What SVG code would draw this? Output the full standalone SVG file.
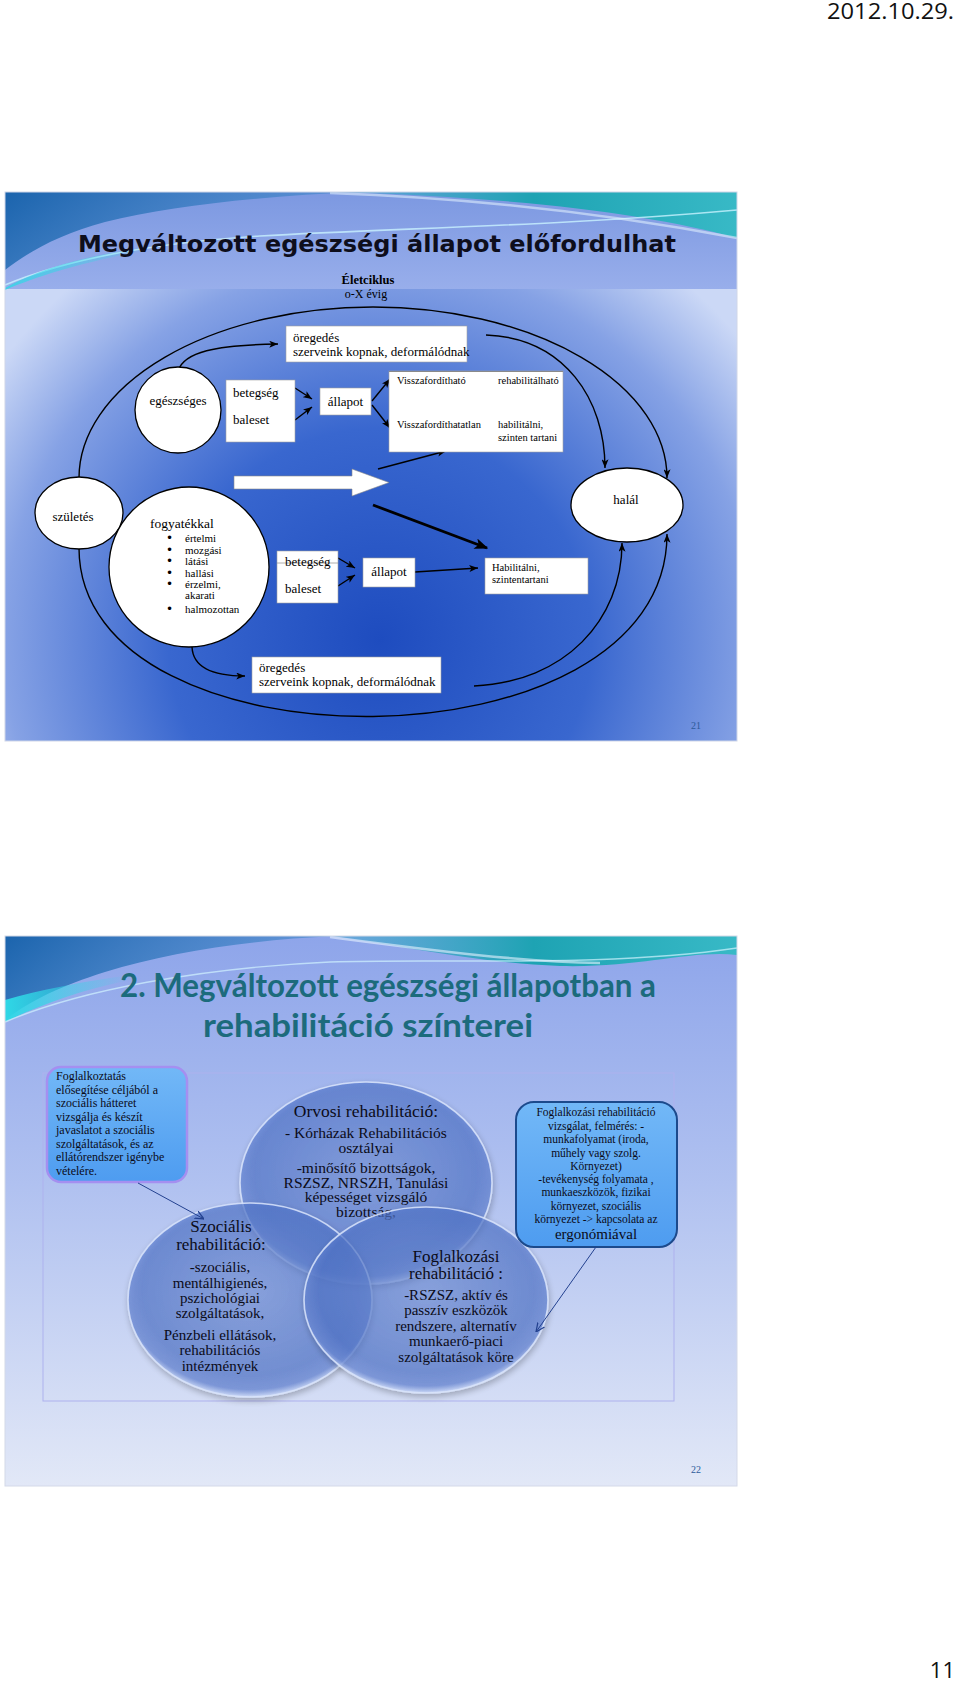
<svg xmlns="http://www.w3.org/2000/svg" width="960" height="1681" viewBox="0 0 960 1681">
<defs>
<style>
.serif{font-family:"Liberation Serif","DejaVu Serif",serif;fill:#000}
.mid{text-anchor:middle}
.wbox{fill:#fff;stroke:#a0a0a0;stroke-width:0.6}
.oval{fill:#fff;stroke:#000;stroke-width:1.3}
.ln{fill:none;stroke:#000;stroke-width:1.4}
.thick{fill:none;stroke:#000;stroke-width:2.8}
.bl{fill:none;stroke:#23418f;stroke-width:1}
.venn{fill:url(#vg);stroke:#dbe5fb;stroke-width:1.6;stroke-opacity:0.85}
.vt{font-family:"Liberation Serif","DejaVu Serif",serif;fill:#0b0b18;text-anchor:middle}
.ct{font-family:"Liberation Serif","DejaVu Serif",serif;fill:#0b0b18}
.num{font-family:"Liberation Serif",serif;font-size:10px;fill:#2d5a9a;text-anchor:middle}
.hdr{font-family:"Open Sans","Noto Sans","Liberation Sans",sans-serif;fill:#111}
.bul{font-family:"DejaVu Sans",sans-serif;font-size:12px;fill:#000}
</style>
<linearGradient id="hdr1" x1="0" y1="0" x2="0" y2="1"><stop offset="0" stop-color="#7c98e1"/><stop offset="1" stop-color="#98aeeb"/></linearGradient>
<radialGradient id="body1" gradientUnits="userSpaceOnUse" cx="380" cy="640" r="470"><stop offset="0" stop-color="#1e4cbf"/><stop offset="0.45" stop-color="#3967cf"/><stop offset="0.8" stop-color="#86a2e5"/><stop offset="1" stop-color="#cbd8f6"/></radialGradient>
<linearGradient id="bg2" x1="0" y1="0" x2="0" y2="1"><stop offset="0" stop-color="#8ea5ea"/><stop offset="0.45" stop-color="#b0c1f0"/><stop offset="1" stop-color="#e2e8f7"/></linearGradient>
<linearGradient id="swl" x1="0" y1="0" x2="1" y2="0.3"><stop offset="0" stop-color="#1b64ad"/><stop offset="1" stop-color="#4f8fd0" stop-opacity="0.6"/></linearGradient>
<linearGradient id="swr" x1="0" y1="0" x2="1" y2="0"><stop offset="0" stop-color="#4aa8d0" stop-opacity="0.5"/><stop offset="0.5" stop-color="#1ea3b3"/><stop offset="1" stop-color="#38b9c6"/></linearGradient>
<linearGradient id="cyan" x1="0" y1="0" x2="1" y2="0"><stop offset="0" stop-color="#2fd8e6"/><stop offset="1" stop-color="#2fd8e6" stop-opacity="0"/></linearGradient>
<radialGradient id="vg" cx="0.5" cy="0.45" r="0.55"><stop offset="0" stop-color="#7090da" stop-opacity="0.6"/><stop offset="0.8" stop-color="#5276cc" stop-opacity="0.66"/><stop offset="0.93" stop-color="#6a89d6" stop-opacity="0.74"/><stop offset="1" stop-color="#cfdcfa" stop-opacity="0.88"/></radialGradient>
<linearGradient id="cl" x1="0" y1="0" x2="0" y2="1"><stop offset="0" stop-color="#72b8f7"/><stop offset="1" stop-color="#4e9cf0"/></linearGradient>
<filter id="sh" x="-10%" y="-10%" width="125%" height="130%"><feGaussianBlur in="SourceAlpha" stdDeviation="3"/><feOffset dx="1" dy="3" result="o"/><feComponentTransfer in="o" result="s"><feFuncA type="linear" slope="0.3"/></feComponentTransfer><feMerge><feMergeNode in="s"/><feMergeNode in="SourceGraphic"/></feMerge></filter>
<marker id="ah" viewBox="0 0 10 8" refX="10" refY="4" markerWidth="9" markerHeight="7" orient="auto" markerUnits="userSpaceOnUse"><path d="M0,0 L10,4 L0,8 L2.5,4 Z" fill="#000"/></marker>
<marker id="ahL" viewBox="0 0 10 8" refX="9" refY="4" markerWidth="14" markerHeight="11" orient="auto" markerUnits="userSpaceOnUse"><path d="M0,0 L10,4 L0,8 L2.5,4 Z" fill="#000"/></marker>
<marker id="ahb" viewBox="0 0 10 10" refX="10" refY="5" markerWidth="9" markerHeight="9" orient="auto" markerUnits="userSpaceOnUse"><path d="M0,0.5 L10,5 L0,9.5" fill="none" stroke="#23418f" stroke-width="1.4"/></marker>
</defs>

<rect x="0" y="0" width="960" height="1681" fill="#fff"/>
<text class="hdr" x="954" y="19" font-size="21" text-anchor="end" textLength="127" lengthAdjust="spacingAndGlyphs">2012.10.29.</text>
<text class="hdr" x="955" y="1678" font-size="22" text-anchor="end">11</text>

<!-- ============ SLIDE 1 ============ -->
<g id="slide1-background">
<rect x="5" y="192" width="732" height="549" fill="url(#body1)"/>
<rect x="5" y="192" width="732" height="97" fill="url(#hdr1)"/>
<path d="M5,192 H360 C260,196 170,206 105,222 C60,234 28,252 5,270 Z" fill="url(#swl)"/>
<path d="M330,192 H737 V238 C650,214 520,197 330,192 Z" fill="url(#swr)"/>
<path d="M5,285 C60,262 140,244 260,236 C400,228 560,226 737,210" fill="none" stroke="#c9f3ff" stroke-width="1.6" opacity="0.8"/>
<path d="M5,288 C40,268 90,255 150,246 L150,250 C90,260 40,275 5,290 Z" fill="url(#cyan)" opacity="0.8"/>
<path d="M330,193 C470,198 600,212 737,238" fill="none" stroke="#e6f4ff" stroke-width="2.5" opacity="0.55"/>
<rect x="5" y="192" width="732" height="549" fill="none" stroke="#cfd6e8" stroke-width="1"/>
</g>

<text id="title-1" x="78" y="252" font-family="DejaVu Sans,Verdana,sans-serif" font-weight="bold" font-size="23" textLength="598" lengthAdjust="spacingAndGlyphs" fill="#0e0e1c">Megváltozott egészségi állapot előfordulhat</text>
<g id="lifecycle-label">
<text class="serif mid" x="368" y="284" font-size="12.5" font-weight="bold">Életciklus</text>
<text class="serif mid" x="366" y="298" font-size="12">o-X évig</text>
</g>

<g id="connectors-1">
<path class="ln" d="M79,478 A294,171 0 0 1 667,478" marker-end="url(#ah)"/>
<path class="ln" d="M486,335 C565,338 605,400 605,468" marker-end="url(#ah)"/>
<path class="ln" d="M79,548 C79,775 667,775 667,534" marker-end="url(#ah)"/>
<path class="ln" d="M474,686 C565,682 622,620 622,543" marker-end="url(#ah)"/>
<path class="ln" d="M178,371 C184,352 215,345 278,344" marker-end="url(#ah)"/>
<path class="ln" d="M192,647 C193,668 215,676 245,676" marker-end="url(#ah)"/>
<line class="ln" x1="295" y1="388" x2="312" y2="399" marker-end="url(#ah)"/>
<line class="ln" x1="295" y1="420" x2="312" y2="407" marker-end="url(#ah)"/>
<line class="ln" x1="372" y1="401" x2="390" y2="379" marker-end="url(#ah)"/>
<line class="ln" x1="372" y1="405" x2="390" y2="428" marker-end="url(#ah)"/>
<line class="ln" x1="378" y1="469" x2="446" y2="451" marker-end="url(#ah)"/>
<line class="thick" x1="373" y1="505" x2="487" y2="548" marker-end="url(#ahL)"/>
<line class="ln" x1="338" y1="558" x2="355" y2="568" marker-end="url(#ah)"/>
<line class="ln" x1="338" y1="586" x2="355" y2="575" marker-end="url(#ah)"/>
<line class="ln" x1="415" y1="572" x2="478" y2="568" marker-end="url(#ah)"/>
</g>

<g id="big-arrow">
<polygon points="234,476 352,476 352,469 389,482.5 352,496 352,489 234,489" fill="#fff" stroke="#8a8a8a" stroke-width="0.6"/>
</g>

<g id="aging-top">
<rect class="wbox" x="286" y="326" width="181" height="36"/>
<text class="serif" x="293" y="342" font-size="13">öregedés</text>
<text class="serif" x="293" y="356" font-size="13">szerveink kopnak, deformálódnak</text>
</g>

<g id="healthy">
<ellipse class="oval" cx="178" cy="410" rx="43" ry="43"/>
<text class="serif mid" x="178" y="405" font-size="13">egészséges</text>
</g>

<g id="illness-1">
<rect class="wbox" x="226" y="380" width="69" height="62"/>
<text class="serif" x="233" y="397" font-size="13">betegség</text>
<text class="serif" x="233" y="424" font-size="13">baleset</text>
</g>

<g id="state-1">
<rect class="wbox" x="320" y="388" width="51" height="27"/>
<text class="serif mid" x="345.5" y="406" font-size="13">állapot</text>
</g>

<g id="reversibility">
<rect class="wbox" x="389" y="371" width="174" height="81"/>
<line x1="389" y1="371.5" x2="563" y2="371.5" stroke="#8a8a8a" stroke-width="1"/>
<text class="serif" x="397" y="384" font-size="10.5">Visszafordítható</text>
<text class="serif" x="498" y="384" font-size="10.5">rehabilitálható</text>
<text class="serif" x="397" y="428" font-size="10.5">Visszafordíthatatlan</text>
<text class="serif" x="498" y="428" font-size="10.5">habilitálni,</text>
<text class="serif" x="498" y="441" font-size="10.5">szinten tartani</text>
</g>

<g id="birth">
<ellipse class="oval" cx="79" cy="513" rx="44" ry="36"/>
<text class="serif mid" x="73" y="521" font-size="13">születés</text>
</g>

<g id="disabled">
<ellipse class="oval" cx="189" cy="567" rx="80" ry="80"/>
<text class="serif" x="150" y="528" font-size="13.5">fogyatékkal</text>
<g class="bul">
<text x="166" y="542">•</text>
<text x="166" y="554">•</text>
<text x="166" y="565">•</text>
<text x="166" y="577">•</text>
<text x="166" y="588">•</text>
<text x="166" y="613">•</text>
</g>
<g class="serif" font-size="11">
<text x="185" y="542">értelmi</text>
<text x="185" y="554">mozgási</text>
<text x="185" y="565">látási</text>
<text x="185" y="577">hallási</text>
<text x="185" y="588">érzelmi,</text>
<text x="185" y="599">akarati</text>
<text x="185" y="613">halmozottan</text>
</g>
</g>

<g id="illness-2">
<rect class="wbox" x="277" y="551" width="61" height="52"/>
<line x1="277" y1="563" x2="338" y2="563" stroke="#9a9a9a" stroke-width="0.8"/>
<text class="serif" x="285" y="566" font-size="13">betegség</text>
<text class="serif" x="285" y="593" font-size="13">baleset</text>
</g>

<g id="state-2">
<rect class="wbox" x="363" y="558" width="52" height="29"/>
<text class="serif mid" x="389" y="576" font-size="13">állapot</text>
</g>

<g id="habilitate">
<rect class="wbox" x="485" y="558" width="103" height="36"/>
<text class="serif" x="492" y="571" font-size="10.5">Habilitálni,</text>
<text class="serif" x="492" y="583" font-size="10.5">szintentartani</text>
</g>

<g id="aging-bottom">
<rect class="wbox" x="252" y="657" width="189" height="36"/>
<text class="serif" x="259" y="672" font-size="13">öregedés</text>
<text class="serif" x="259" y="686" font-size="13">szerveink kopnak, deformálódnak</text>
</g>

<g id="death">
<ellipse class="oval" cx="627" cy="505" rx="56" ry="37"/>
<text class="serif mid" x="626" y="504" font-size="13">halál</text>
</g>

<text class="num" x="696" y="729">21</text>

<!-- ============ SLIDE 2 ============ -->
<g id="slide2-background">
<rect x="5" y="936" width="732" height="550" fill="url(#bg2)"/>
<path d="M5,936 H335 C250,940 170,952 105,972 C60,986 28,1002 5,1020 Z" fill="url(#swl)"/>
<path d="M5,1000 C40,990 80,982 130,975 L130,980 C80,990 40,1005 5,1022 Z" fill="url(#cyan)"/>
<path d="M330,936 H737 V955 C690,950 640,968 560,966 C470,962 400,945 330,936 Z" fill="url(#swr)"/>
<path d="M5,1022 C80,990 200,968 330,962 C450,958 600,968 737,948" fill="none" stroke="#d2f4ff" stroke-width="1.4" opacity="0.7"/>
<path d="M330,937 C430,950 520,962 600,963" fill="none" stroke="#e8f3ff" stroke-width="2.5" opacity="0.6"/>
<rect x="5" y="936" width="732" height="550" fill="none" stroke="#d4d9e8" stroke-width="1"/>
</g>

<g id="title-2" font-family="Lato,'Open Sans',sans-serif" font-weight="bold" fill="#1c6b7c">
<text x="120" y="997" font-size="33" textLength="536" lengthAdjust="spacingAndGlyphs">2. Megváltozott egészségi állapotban a</text>
<text x="203" y="1037" font-size="33" textLength="330" lengthAdjust="spacingAndGlyphs">rehabilitáció színterei</text>
</g>

<rect id="content-frame" x="43" y="1073" width="631" height="328" fill="none" stroke="#aeb1ee" stroke-width="1"/>

<g id="medical-rehab">
<ellipse class="venn" cx="366" cy="1183" rx="126" ry="101" filter="url(#sh)"/>
<text class="vt" x="366" y="1117" font-size="17.5">Orvosi rehabilitáció:</text>
<text class="vt" x="366" y="1138" font-size="15.5">- Kórházak Rehabilitációs</text>
<text class="vt" x="366" y="1153" font-size="15.5">osztályai</text>
<text class="vt" x="366" y="1173" font-size="15.5">-minősítő bizottságok,</text>
<text class="vt" x="366" y="1188" font-size="15.5">RSZSZ, NRSZH, Tanulási</text>
<text class="vt" x="366" y="1202" font-size="15.5">képességet vizsgáló</text>
<text class="vt" x="366" y="1217" font-size="15.5">bizottság,</text>
</g>

<g id="social-rehab">
<ellipse class="venn" cx="250" cy="1300" rx="122" ry="97" filter="url(#sh)"/>
<text class="vt" x="221" y="1232" font-size="17">Szociális</text>
<text class="vt" x="221" y="1250" font-size="17">rehabilitáció:</text>
<text class="vt" x="220" y="1272" font-size="15">-szociális,</text>
<text class="vt" x="220" y="1288" font-size="15">mentálhigienés,</text>
<text class="vt" x="220" y="1303" font-size="15">pszichológiai</text>
<text class="vt" x="220" y="1318" font-size="15">szolgáltatások,</text>
<text class="vt" x="220" y="1340" font-size="15">Pénzbeli ellátások,</text>
<text class="vt" x="220" y="1355" font-size="15">rehabilitációs</text>
<text class="vt" x="220" y="1371" font-size="15">intézmények</text>
</g>

<g id="vocational-rehab">
<ellipse class="venn" cx="426" cy="1300" rx="122" ry="93" filter="url(#sh)"/>
<text class="vt" x="456" y="1262" font-size="17">Foglalkozási</text>
<text class="vt" x="456" y="1279" font-size="17">rehabilitáció :</text>
<text class="vt" x="456" y="1300" font-size="15">-RSZSZ, aktív és</text>
<text class="vt" x="456" y="1315" font-size="15">passzív eszközök</text>
<text class="vt" x="456" y="1331" font-size="15">rendszere, alternatív</text>
<text class="vt" x="456" y="1346" font-size="15">munkaerő-piaci</text>
<text class="vt" x="456" y="1362" font-size="15">szolgáltatások köre</text>
</g>

<g id="callout-left">
<rect x="47" y="1067" width="140" height="115" rx="14" fill="url(#cl)" stroke="#a58ff0" stroke-width="2.5"/>
<g class="ct" font-size="12">
<text x="56" y="1080">Foglalkoztatás</text>
<text x="56" y="1093.5">elősegítése céljából a</text>
<text x="56" y="1107">szociális hátteret</text>
<text x="56" y="1120.5">vizsgálja  és készít</text>
<text x="56" y="1134">javaslatot a szociális</text>
<text x="56" y="1147.5">szolgáltatások, és az</text>
<text x="56" y="1161">ellátórendszer igénybe</text>
<text x="56" y="1174.5">vételére.</text>
</g>
</g>

<g id="callout-right">
<rect x="516" y="1102" width="161" height="145" rx="18" fill="url(#cl)" stroke="#1c4a8c" stroke-width="2"/>
<g class="vt" font-size="11.5">
<text x="596" y="1116">Foglalkozási rehabilitáció</text>
<text x="596" y="1130">vizsgálat, felmérés: -</text>
<text x="596" y="1143">munkafolyamat (iroda,</text>
<text x="596" y="1157">műhely vagy szolg.</text>
<text x="596" y="1170">Környezet)</text>
<text x="596" y="1183">-tevékenység folyamata ,</text>
<text x="596" y="1196">munkaeszközök, fizikai</text>
<text x="596" y="1210">környezet, szociális</text>
<text x="596" y="1223">környezet -&gt; kapcsolata az</text>
<text x="596" y="1239" font-size="15">ergonómiával</text>
</g>
</g>

<g id="connectors-2">
<line class="bl" x1="138" y1="1183" x2="204" y2="1219" marker-end="url(#ahb)"/>
<line class="bl" x1="596" y1="1247" x2="536" y2="1332" marker-end="url(#ahb)"/>
</g>

<text class="num" x="696" y="1473">22</text>
</svg>
